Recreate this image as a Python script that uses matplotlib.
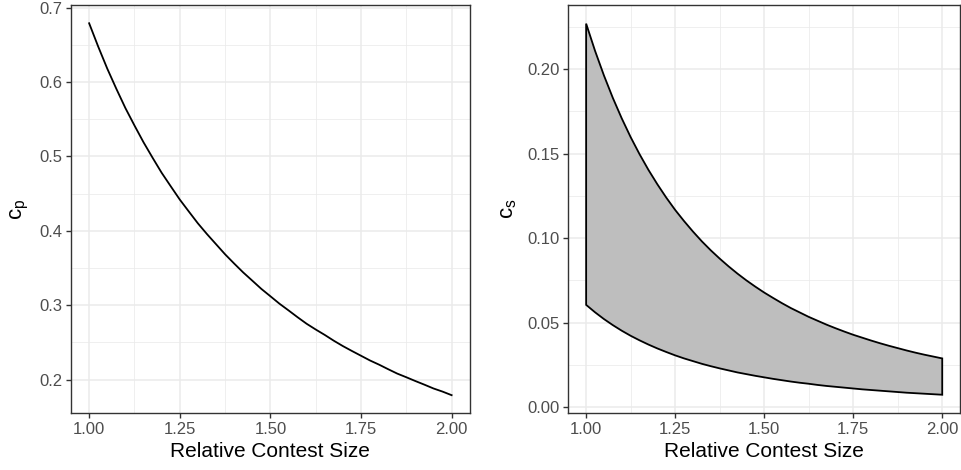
import numpy as np
import matplotlib.pyplot as plt
from matplotlib.ticker import MultipleLocator

plt.rcParams['font.family'] = ['Liberation Sans', 'DejaVu Sans']
plt.rcParams['mathtext.fontset'] = 'custom'
plt.rcParams['mathtext.rm'] = 'Liberation Sans'

# relative contest size
size = [1.000, 1.025, 1.050, 1.075, 1.100, 1.125, 1.150, 1.175, 1.200, 1.225,
        1.250, 1.275, 1.300, 1.325, 1.350, 1.375, 1.400, 1.425, 1.450, 1.475,
        1.500, 1.525, 1.550, 1.575, 1.600, 1.625, 1.650, 1.675, 1.700, 1.725,
        1.750, 1.775, 1.800, 1.825, 1.850, 1.875, 1.900, 1.925, 1.950, 1.975, 2.000]

# c_p curve (left panel)
cp = [0.6790, 0.6476, 0.6180, 0.5909, 0.5650, 0.5416, 0.5190, 0.4982, 0.4780, 0.4599,
      0.4420, 0.4259, 0.4100, 0.3956, 0.3820, 0.3684, 0.3560, 0.3440, 0.3330, 0.3219,
      0.3120, 0.3020, 0.2930, 0.2838, 0.2750, 0.2673, 0.2600, 0.2522, 0.2450, 0.2384,
      0.2320, 0.2256, 0.2200, 0.2139, 0.2080, 0.2031, 0.1980, 0.1931, 0.1880, 0.1838, 0.1790]

# c_s band (right panel)
cs_upper = [0.2270, 0.2109, 0.1963, 0.1830, 0.1709, 0.1598, 0.1497, 0.1404, 0.1319, 0.1240,
            0.1167, 0.1101, 0.1039, 0.0981, 0.0928, 0.0879, 0.0833, 0.0790, 0.0750, 0.0713,
            0.0678, 0.0646, 0.0615, 0.0586, 0.0560, 0.0534, 0.0511, 0.0488, 0.0467, 0.0447,
            0.0428, 0.0411, 0.0394, 0.0378, 0.0363, 0.0349, 0.0335, 0.0322, 0.0310, 0.0299, 0.0288]
cs_lower = [0.0605, 0.0561, 0.0521, 0.0485, 0.0452, 0.0422, 0.0395, 0.0370, 0.0347, 0.0326,
            0.0306, 0.0288, 0.0272, 0.0256, 0.0242, 0.0229, 0.0217, 0.0205, 0.0195, 0.0185,
            0.0176, 0.0167, 0.0159, 0.0151, 0.0144, 0.0138, 0.0131, 0.0125, 0.0120, 0.0115,
            0.0110, 0.0105, 0.0101, 0.0097, 0.0093, 0.0089, 0.0085, 0.0082, 0.0079, 0.0076, 0.0073]

x_ticks = [1.00, 1.25, 1.50, 1.75, 2.00]
x_tick_labels = ['1.00', '1.25', '1.50', '1.75', '2.00']


def style_panel(ax, ymaj, ymin, yfmt):
    ax.set_facecolor('white')
    ax.set_xticks(x_ticks)
    ax.set_xticklabels(x_tick_labels)
    ax.xaxis.set_minor_locator(MultipleLocator(0.125))
    ax.yaxis.set_major_locator(MultipleLocator(ymaj))
    ax.yaxis.set_minor_locator(MultipleLocator(ymin))
    ax.yaxis.set_major_formatter(plt.FormatStrFormatter(yfmt))
    ax.grid(True, which='major', color='#EBEBEB', linewidth=1.1)
    ax.grid(True, which='minor', color='#EBEBEB', linewidth=0.55)
    ax.set_axisbelow(True)
    for s in ax.spines.values():
        s.set_color('#333333')
        s.set_linewidth(1.0)
    ax.tick_params(which='major', length=3.6, width=1.0, color='#333333',
                   labelcolor='#4D4D4D', labelsize=12, pad=2.5)
    ax.tick_params(which='minor', length=0)
    ax.set_xlabel('Relative Contest Size', fontsize=15, color='black', labelpad=3.5)


fig = plt.figure(figsize=(9.61, 4.70), dpi=100)
ax1 = fig.add_axes([0.0739, 0.1206, 0.4149, 0.8687])
ax2 = fig.add_axes([0.5914, 0.1206, 0.4076, 0.8687])

# left: c_p
ax1.plot(size, cp, color='black', linewidth=1.3)
ax1.set_xlim(0.95, 2.05)
ax1.set_ylim(0.1546, 0.7035)
style_panel(ax1, 0.1, 0.05, '%.1f')
ax1.set_ylabel(r'$\mathrm{c}_\mathrm{p}$', fontsize=16, labelpad=6)

# right: c_s band
xs = np.array(size)
poly_x = np.concatenate([xs, xs[::-1]])
poly_y = np.concatenate([cs_upper, cs_lower[::-1]])
ax2.fill(poly_x, poly_y, facecolor='#BEBEBE', edgecolor='black', linewidth=1.3,
         joinstyle='miter')
ax2.set_xlim(0.95, 2.05)
ax2.set_ylim(-0.0037, 0.2380)
style_panel(ax2, 0.05, 0.025, '%.2f')
ax2.set_ylabel(r'$\mathrm{c}_\mathrm{s}$', fontsize=16, labelpad=6)

fig.savefig('out.png', dpi=100)
